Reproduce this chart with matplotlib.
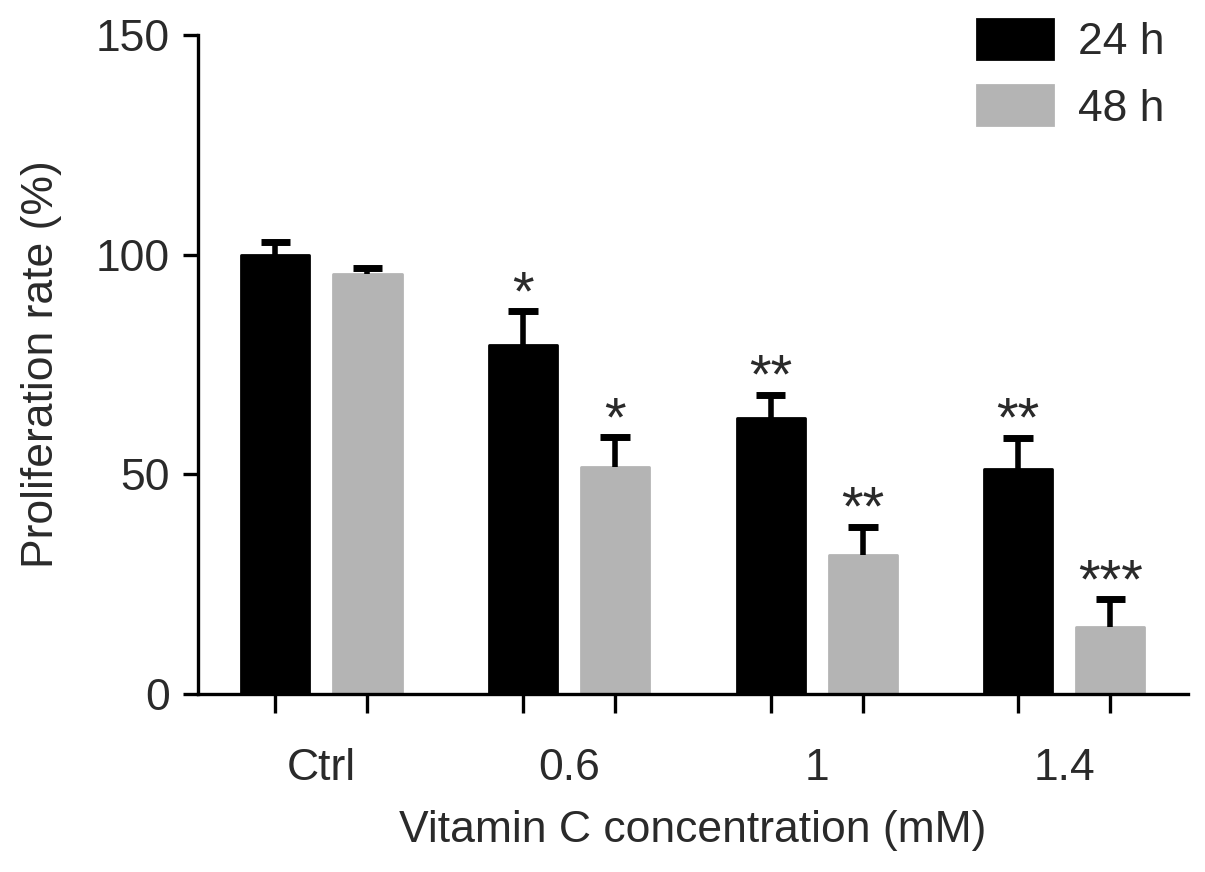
import numpy as np
import matplotlib
matplotlib.use("Agg")
import matplotlib.pyplot as plt

# ---- data ----
groups = ["Ctrl", "0.6", "1", "1.4"]
mean_24h = [100.0, 79.5, 62.8, 51.2]
err_24h = [2.8, 7.6, 5.3, 7.1]
mean_48h = [95.5, 51.6, 31.6, 15.3]
err_48h = [1.5, 6.8, 6.4, 6.3]
stars_24h = ["", "*", "**", "**"]
stars_48h = ["", "*", "**", "***"]

BLACK = "#000000"
GREY = "#b4b4b4"
TXT = "#2a2a2a"
FS_ = 32

plt.rcParams["font.family"] = ["Liberation Sans", "DejaVu Sans"]

fig = plt.figure(figsize=(12.05, 8.72), dpi=100)
ax = fig.add_axes([0.164, 0.204, 0.822, 0.756])

x = np.arange(len(groups))
off = 0.186
w = 0.275
cap = 0.06  # half width of error-bar cap, data units

for xs, m, e, col, lab in [
    (x - off, mean_24h, err_24h, BLACK, "24 h"),
    (x + off, mean_48h, err_48h, GREY, "48 h"),
]:
    m = np.array(m)
    e = np.array(e)
    ax.bar(xs, m, width=w, color=col, edgecolor=col, linewidth=2,
           joinstyle="round", label=lab, zorder=2)
    # upper error bars only (GraphPad style)
    ax.vlines(xs, m, m + e, color="black", lw=4, zorder=3)
    ax.hlines(m + e, xs - cap, xs + cap, color="black", lw=5, zorder=3)

# significance marks
for xs, m, e, st in [(x - off, mean_24h, err_24h, stars_24h),
                     (x + off, mean_48h, err_48h, stars_48h)]:
    for xi, mi, ei, s in zip(xs, m, e, st):
        if s:
            ax.text(xi, mi + ei + 0.5, s, ha="center", va="baseline",
                    fontsize=40, color=TXT)

ax.set_xlim(-0.5, 3.5)
ax.set_ylim(0, 150)
ax.set_yticks([0, 50, 100, 150])
ax.set_xticks(np.concatenate([x - off, x + off]))
ax.set_xticklabels([""] * 8)
for xi, g in zip(x, groups):
    ax.text(xi, -0.113, g, transform=ax.get_xaxis_transform(), ha="center",
            va="center", fontsize=FS_, color=TXT)

for sp in ["top", "right"]:
    ax.spines[sp].set_visible(False)
for sp in ["left", "bottom"]:
    ax.spines[sp].set_linewidth(2.4)
ax.tick_params(axis="y", length=11, width=2.4, labelsize=FS_, labelcolor=TXT, pad=9)
ax.tick_params(axis="x", length=14, width=2.4)

ax.set_ylabel("Proliferation rate (%)", fontsize=FS_, color=TXT, labelpad=24)
ax.set_xlabel("Vitamin C concentration (mM)", fontsize=FS_, color=TXT, labelpad=66)

leg = ax.legend(loc="upper right", bbox_to_anchor=(0.976, 1.024), frameon=False,
                fontsize=FS_, handlelength=1.72, handleheight=1.0,
                handletextpad=0.55, labelspacing=0.5, borderpad=0,
                borderaxespad=0)
for t in leg.get_texts():
    t.set_color(TXT)

fig.savefig("out.png", dpi=100)
